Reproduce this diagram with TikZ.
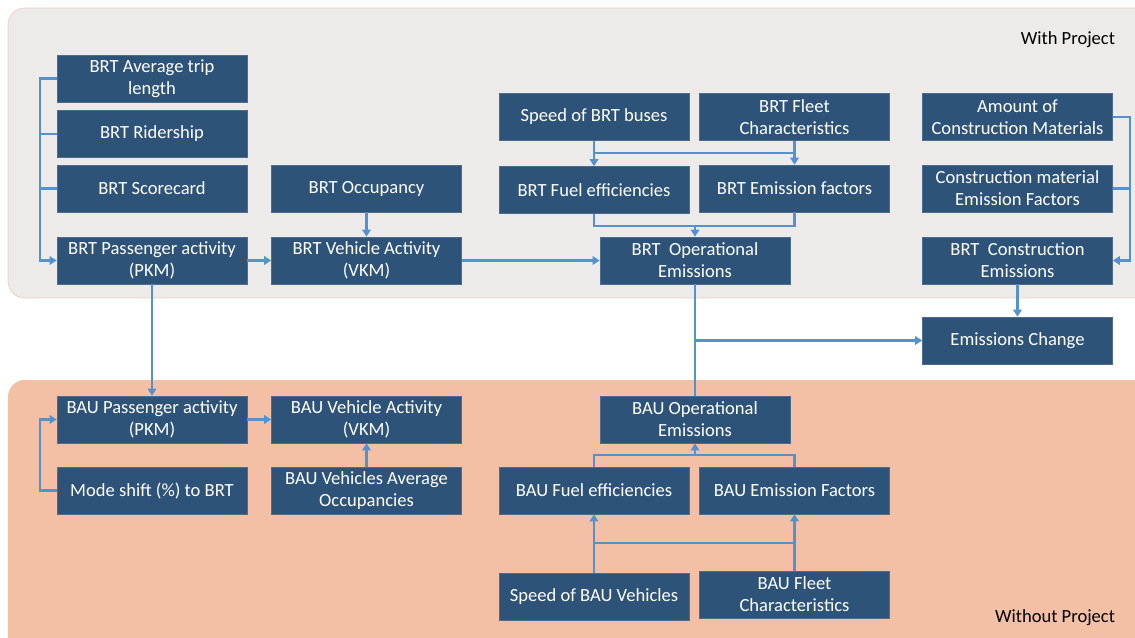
\documentclass[tikz,border=0pt]{standalone}
\usepackage{fontspec}
\setmainfont{Carlito}
\usetikzlibrary{arrows.meta}
\definecolor{boxblue}{RGB}{46,83,120}
\definecolor{linkblue}{RGB}{84,146,205}
\definecolor{withbg}{RGB}{236,235,234}
\definecolor{withoutbg}{RGB}{243,192,166}
\definecolor{edgepink}{RGB}{240,205,195}
\begin{document}
\begin{tikzpicture}[x=0.025cm, y=-0.025cm,
    box/.style={fill=boxblue, draw=boxblue!85!white, line width=0.4pt, text=white, align=center,
      minimum width=4.75cm, minimum height=1.175cm, inner sep=0pt, font=\fontsize{13.2}{15.5}\selectfont},
    link/.style={draw=linkblue, line width=1.5pt},
    flow/.style={link, -{Triangle[length=5pt,width=6pt]}},
    tag/.style={anchor=east, font=\fontsize{13.2}{15.5}\selectfont}]
\useasboundingbox (0,0) rectangle (1135,637);
\begin{scope}
\clip (0,0) rectangle (1135,637);
\filldraw[fill=withbg, draw=edgepink, line width=0.5pt, rounded corners=12] (8,8) rectangle (1160,298); % WithProject
\fill[withoutbg, rounded corners=12] (8,380) rectangle (1160,660); % WithoutProject
\end{scope}
\node[tag] (withtag) at (1120,40) {With Project}; % withtag
\node[tag] (withouttag) at (1120,618) {Without Project}; % withouttag
\coordinate (leftbus) at (40,0); % leftbus
\coordinate (rightbus) at (1130,0); % rightbus
\coordinate (brtbar) at (0,153); % brtbar
\coordinate (brtjoin) at (0,226); % brtjoin
\coordinate (baujoin) at (0,455); % baujoin
\coordinate (baubar) at (0,543); % baubar
% with project
\node[box] (brttrip) at (152,78.5) {BRT Average trip\\length}; % brttrip
\node[box] (brtriders) at (152,134) {BRT Ridership}; % brtriders
\node[box] (brtscore) at (152,188.5) {BRT Scorecard}; % brtscore
\node[box] (brtpkm) at (152,260.5) {BRT Passenger activity\\(PKM)}; % brtpkm
\node[box] (brtocc) at (366.5,188.5) {BRT Occupancy}; % brtocc
\node[box] (brtvkm) at (366.5,260.5) {BRT Vehicle Activity\\(VKM)}; % brtvkm
\node[box] (brtspeed) at (594,117) {Speed of BRT buses}; % brtspeed
\node[box] (brtfleet) at (794.5,117) {BRT Fleet\\Characteristics}; % brtfleet
\node[box] (brtfuel) at (594,190) {BRT Fuel efficiencies}; % brtfuel
\node[box] (brtef) at (794.5,188.5) {BRT Emission factors}; % brtef
\node[box] (brtop) at (695,260.5) {BRT~ Operational\\Emissions}; % brtop
\node[box] (conamount) at (1017.5,117) {Amount of\\Construction Materials}; % conamount
\node[box] (conef) at (1017.5,188.5) {Construction material\\Emission Factors}; % conef
\node[box] (brtcon) at (1017.5,260.5) {BRT~ Construction\\Emissions}; % brtcon
\node[box] (change) at (1017.5,340.5) {Emissions Change}; % change
% without project
\node[box] (baupkm) at (152,419.5) {BAU Passenger activity\\(PKM)}; % baupkm
\node[box] (modeshift) at (152,490.5) {Mode shift (\%) to BRT}; % modeshift
\node[box] (bauvkm) at (366.5,419.5) {BAU Vehicle Activity\\(VKM)}; % bauvkm
\node[box] (bauocc) at (366.5,490.5) {BAU Vehicles Average\\Occupancies}; % bauocc
\node[box] (bauop) at (695,419.5) {BAU Operational\\Emissions}; % bauop
\node[box] (baufuel) at (594,490.5) {BAU Fuel efficiencies}; % baufuel
\node[box] (bauef) at (794.5,490.5) {BAU Emission Factors}; % bauef
\node[box] (bauspeed) at (594,596.5) {Speed of BAU Vehicles}; % bauspeed
\node[box] (baufleet) at (794.5,594.5) {BAU Fleet\\Characteristics}; % baufleet
% links
\draw[flow] (brttrip.west) -- (brttrip.west -| leftbus) |- (brtpkm.west); % leftbus
\draw[link] (brtriders.west) -- (brtriders.west -| leftbus); % brtriders
\draw[link] (brtscore.west) -- (brtscore.west -| leftbus); % brtscore
\draw[flow] (brtocc) -- (brtvkm); % brtocc
\draw[flow] (brtpkm) -- (brtvkm); % brtpkm
\draw[flow] (brtvkm) -- (brtop); % brtvkm
\draw[flow] (brtspeed) -- (brtfuel); % brtspeed
\draw[flow] (brtfleet) -- (brtef); % brtfleet
\draw[link] (brtspeed.south |- brtbar) -- (brtfleet.south |- brtbar); % brtbar
\draw[link] (brtfuel.south) |- (brtef.south |- brtjoin) -- (brtef.south); % brtjoin
\draw[flow] (brtop.north |- brtjoin) -- (brtop.north); % brtop
\draw[flow] (conamount.east) -- (conamount.east -| rightbus) |- (brtcon.east); % rightbus
\draw[link] (conef.east) -- (conef.east -| rightbus); % conef
\draw[flow] (brtcon) -- (change); % brtcon
\draw[link] (brtop.south) -- (bauop.north); % brtop
\draw[flow] (brtop.south |- change) -- (change.west); % change
\draw[flow] (brtpkm) -- (baupkm); % baupkm
\draw[flow] (baupkm) -- (bauvkm); % bauvkm
\draw[flow] (modeshift.west) -- (modeshift.west -| leftbus) |- (baupkm.west); % modeshift
\draw[flow] (bauocc) -- (bauvkm); % bauocc
\draw[link] (baufuel.north) |- (bauef.north |- baujoin) -- (bauef.north); % baujoin
\draw[flow] (bauop.south |- baujoin) -- (bauop.south); % bauop
\draw[flow] (bauspeed) -- (baufuel); % bauspeed
\draw[flow] (baufleet) -- (bauef); % baufleet
\draw[link] (bauspeed.north |- baubar) -- (baufleet.north |- baubar); % baubar
\end{tikzpicture}
\end{document}
